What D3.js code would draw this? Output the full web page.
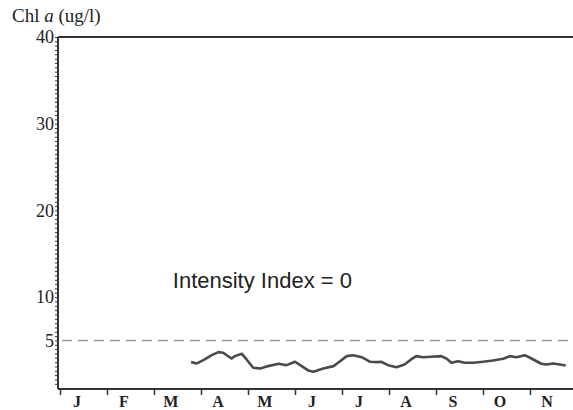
<!DOCTYPE html>
<html>
<head>
<meta charset="utf-8">
<script src="https://cdn.jsdelivr.net/npm/d3@7"></script>
<style>
  body { margin: 0; background: #fff; }
  .serif { font-family: "Liberation Serif", "DejaVu Serif", serif; }
</style>
</head>
<body>
<div id="vis"></div>
<script>
const FRAME_WIDTH = 573;
const FRAME_HEIGHT = 410;
const MARGINS = {left: 58, right: 0, top: 37, bottom: 21};

// month axis: position 0 = start of January, one unit per month
const months = ["J", "F", "M", "A", "M", "J", "J", "A", "S", "O", "N"];
const yTicks = [5, 10, 20, 30, 40];
const threshold = 5;
const annotation = "Intensity Index = 0";

// chlorophyll a trace (month position, ug/l)
const chlMonth = [2.79, 2.91, 3.05, 3.23, 3.37, 3.47, 3.65, 3.72, 3.87, 3.97,
                  4.11, 4.26, 4.43, 4.65, 4.82, 5.00, 5.11, 5.28, 5.39, 5.60,
                  5.82, 5.96, 6.10, 6.24, 6.42, 6.60, 6.77, 6.83, 6.98, 7.16,
                  7.33, 7.47, 7.58, 7.72, 7.90, 8.11, 8.22, 8.33, 8.47, 8.61,
                  8.79, 9.00, 9.21, 9.43, 9.57, 9.71, 9.89, 10.03, 10.24, 10.35,
                  10.49, 10.63, 10.76];
const chlValue = [2.50, 2.35, 2.73, 3.30, 3.65, 3.58, 2.92, 3.19, 3.46, 2.81,
                  1.85, 1.77, 2.04, 2.31, 2.15, 2.54, 2.15, 1.54, 1.39, 1.77,
                  2.04, 2.61, 3.19, 3.30, 3.07, 2.54, 2.50, 2.54, 2.15, 1.92,
                  2.23, 2.81, 3.19, 3.07, 3.12, 3.19, 2.92, 2.43, 2.61, 2.43,
                  2.43, 2.54, 2.69, 2.89, 3.19, 3.07, 3.30, 2.92, 2.31, 2.23,
                  2.35, 2.23, 2.12];

const FRAME1 = d3.select("#vis")
                  .append("svg")
                    .attr("width", FRAME_WIDTH)
                    .attr("height", FRAME_HEIGHT);

const MONTH_W = 47;
const X_SCALE = d3.scaleLinear()
  .domain([0, 12])
  .range([60, 60 + 12 * MONTH_W]);

const Y_SCALE = d3.scaleLinear()
  .domain([-0.6, 40])
  .range([FRAME_HEIGHT - MARGINS.bottom, MARGINS.top]);

const AXIS_COLOR = "#333";

// top frame line
FRAME1.append("line")
  .attr("x1", MARGINS.left).attr("x2", FRAME_WIDTH)
  .attr("y1", MARGINS.top).attr("y2", MARGINS.top)
  .attr("stroke", AXIS_COLOR).attr("stroke-width", 2);

// y axis: minor ticks every 0.5
const minor = d3.range(0, 40.01, 0.5);
const yAxis = FRAME1.append("g")
  .attr("transform", "translate(" + MARGINS.left + ",0)")
  .call(d3.axisLeft(Y_SCALE).tickValues(minor).tickSize(3).tickFormat(""));
yAxis.select(".domain").remove();
yAxis.selectAll(".tick line").attr("stroke", AXIS_COLOR).attr("stroke-width", 1);

FRAME1.append("line")
  .attr("x1", MARGINS.left).attr("x2", MARGINS.left)
  .attr("y1", MARGINS.top).attr("y2", FRAME_HEIGHT - MARGINS.bottom)
  .attr("stroke", AXIS_COLOR).attr("stroke-width", 2);

FRAME1.selectAll(".ylab")
  .data(yTicks)
  .enter()
  .append("text")
    .attr("class", "serif")
    .attr("x", MARGINS.left - 4)
    .attr("y", (d) => Y_SCALE(d))
    .attr("dy", "0.35em")
    .attr("text-anchor", "end")
    .attr("font-size", 18)
    .attr("fill", "#222")
    .text((d) => d);

// x axis
const xAxisY = FRAME_HEIGHT - MARGINS.bottom;
FRAME1.append("line")
  .attr("x1", MARGINS.left).attr("x2", FRAME_WIDTH)
  .attr("y1", xAxisY).attr("y2", xAxisY)
  .attr("stroke", AXIS_COLOR).attr("stroke-width", 2);

const xAxis = FRAME1.append("g")
  .attr("transform", "translate(0," + xAxisY + ")")
  .call(d3.axisBottom(X_SCALE).tickValues(d3.range(0, 12)).tickSize(6).tickFormat(""));
xAxis.select(".domain").remove();
xAxis.selectAll(".tick line").attr("stroke", AXIS_COLOR).attr("stroke-width", 1.5);

FRAME1.selectAll(".mlab")
  .data(months)
  .enter()
  .append("text")
    .attr("class", "serif")
    .attr("x", (d, i) => X_SCALE(i + 0.36))
    .attr("y", FRAME_HEIGHT - 3)
    .attr("text-anchor", "middle")
    .attr("font-size", 16)
    .attr("font-weight", "bold")
    .attr("fill", "#222")
    .text((d) => d);

// title
const title = FRAME1.append("text")
  .attr("class", "serif")
  .attr("x", 12)
  .attr("y", 22)
  .attr("font-size", 19)
  .attr("fill", "#222");
title.append("tspan").text("Chl ");
title.append("tspan").attr("font-style", "italic").text("a");
title.append("tspan").text(" (ug/l)");

// threshold line
FRAME1.append("line")
  .attr("x1", MARGINS.left + 4).attr("x2", FRAME_WIDTH)
  .attr("y1", Y_SCALE(threshold)).attr("y2", Y_SCALE(threshold))
  .attr("stroke", "#999")
  .attr("stroke-width", 1.6)
  .attr("stroke-dasharray", "10,6");

// annotation
FRAME1.append("text")
  .attr("x", X_SCALE(2.4))
  .attr("y", Y_SCALE(11))
  .attr("font-family", "Liberation Sans, Arial, sans-serif")
  .attr("font-size", 22)
  .attr("fill", "#222")
  .text(annotation);

// chl trace
const series = chlMonth.map((m, i) => ({m: m, v: chlValue[i]}));
FRAME1.append("path")
  .datum(series)
  .attr("fill", "none")
  .attr("stroke", "#4a4a4a")
  .attr("stroke-width", 2.6)
  .attr("stroke-linejoin", "round")
  .attr("d", d3.line().x((d) => X_SCALE(d.m)).y((d) => Y_SCALE(d.v)));
</script>
</body>
</html>
